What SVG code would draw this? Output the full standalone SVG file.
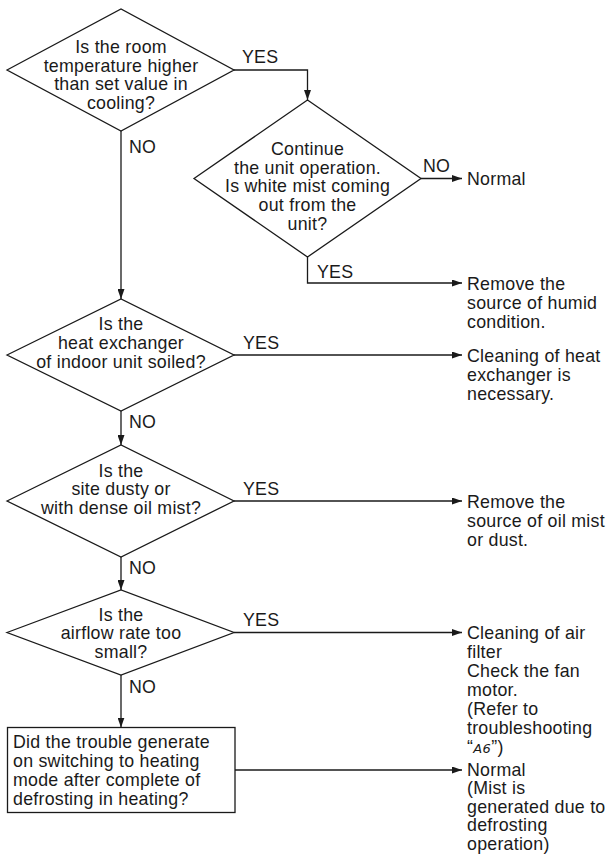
<svg xmlns="http://www.w3.org/2000/svg" width="610" height="854" viewBox="0 0 610 854">
  <style>
    .shape { fill: #ffffff; stroke: #1a1a1a; stroke-width: 1.3; }
    .wire { fill: none; stroke: #1a1a1a; stroke-width: 1.3; }
    text { font-family: "Liberation Sans", Arial, Helvetica, sans-serif; font-size: 17.8px; letter-spacing: 0.25px; fill: #1a1a1a; }
    .c { text-anchor: middle; }
    .seg { font-family: "DejaVu Sans", sans-serif; font-style: italic; font-size: 13px; letter-spacing: 0.5px; }
  </style>
  <defs>
    <marker id="arrow" markerUnits="userSpaceOnUse" markerWidth="10" markerHeight="7" refX="10" refY="3.5" orient="auto">
      <path d="M0,0 L10,3.5 L0,7 z" fill="#1a1a1a"/>
    </marker>
  </defs>

  <rect width="610" height="854" fill="#ffffff"/>

  <!-- connectors and their YES / NO labels -->
  <g id="connectors">
    <path class="wire" d="M234,70 H307.5 V100" marker-end="url(#arrow)"/>
    <path class="wire" d="M121,131 V299" marker-end="url(#arrow)"/>
    <path class="wire" d="M421,178.5 H462" marker-end="url(#arrow)"/>
    <path class="wire" d="M307.5,257 V283 H462" marker-end="url(#arrow)"/>
    <path class="wire" d="M234,355 H462" marker-end="url(#arrow)"/>
    <path class="wire" d="M121,411 V445" marker-end="url(#arrow)"/>
    <path class="wire" d="M234,501 H462" marker-end="url(#arrow)"/>
    <path class="wire" d="M121,557 V590" marker-end="url(#arrow)"/>
    <path class="wire" d="M234,632.5 H462" marker-end="url(#arrow)"/>
    <path class="wire" d="M121,675 V727.5" marker-end="url(#arrow)"/>
    <path class="wire" d="M235,770 H462" marker-end="url(#arrow)"/>

    <text x="242" y="63">YES</text>
    <text x="129" y="153">NO</text>
    <text x="423" y="171.5">NO</text>
    <text x="317" y="278">YES</text>
    <text x="243" y="348.5">YES</text>
    <text x="129" y="428">NO</text>
    <text x="243" y="494.5">YES</text>
    <text x="129" y="574">NO</text>
    <text x="243" y="626">YES</text>
    <text x="129" y="693">NO</text>
  </g>

  <!-- decision: room temperature -->
  <g id="q-room-temp">
    <polygon class="shape" points="7,70 121,9 234,70 121,131"/>
    <text class="c" x="121" y="53">Is the room</text>
    <text class="c" x="121" y="71.5">temperature higher</text>
    <text class="c" x="121" y="90">than set value in</text>
    <text class="c" x="121" y="108.5">cooling?</text>
  </g>

  <!-- decision: white mist -->
  <g id="q-white-mist">
    <polygon class="shape" points="194,178.5 307.5,100 421,178.5 307.5,257"/>
    <text class="c" x="307.5" y="155">Continue</text>
    <text class="c" x="307.5" y="173.7">the unit operation.</text>
    <text class="c" x="307.5" y="192.4">Is white mist coming</text>
    <text class="c" x="307.5" y="211.1">out from the</text>
    <text class="c" x="307.5" y="229.8">unit?</text>
  </g>

  <!-- result: normal -->
  <g id="r-normal-1">
    <text x="467" y="185">Normal</text>
  </g>

  <!-- result: humid source -->
  <g id="r-humid">
    <text x="467" y="290">Remove the</text>
    <text x="467" y="309">source of humid</text>
    <text x="467" y="328">condition.</text>
  </g>

  <!-- decision: heat exchanger -->
  <g id="q-heat-exchanger">
    <polygon class="shape" points="7,355 121,299 234,355 121,411"/>
    <text class="c" x="121" y="329.5">Is the</text>
    <text class="c" x="121" y="348.5">heat exchanger</text>
    <text class="c" x="121" y="367.5">of indoor unit soiled?</text>
  </g>

  <!-- result: clean exchanger -->
  <g id="r-clean-exchanger">
    <text x="467" y="362">Cleaning of heat</text>
    <text x="467" y="381">exchanger is</text>
    <text x="467" y="400">necessary.</text>
  </g>

  <!-- decision: dusty site -->
  <g id="q-dusty-site">
    <polygon class="shape" points="7,501 121,445 234,501 121,557"/>
    <text class="c" x="121" y="476.5">Is the</text>
    <text class="c" x="121" y="495">site dusty or</text>
    <text class="c" x="121" y="513.5">with dense oil mist?</text>
  </g>

  <!-- result: oil mist source -->
  <g id="r-oil-mist">
    <text x="467" y="507.5">Remove the</text>
    <text x="467" y="526.5">source of oil mist</text>
    <text x="467" y="545.5">or dust.</text>
  </g>

  <!-- decision: airflow -->
  <g id="q-airflow">
    <polygon class="shape" points="7,632.5 121,590 234,632.5 121,675"/>
    <text class="c" x="121" y="620.5">Is the</text>
    <text class="c" x="121" y="639">airflow rate too</text>
    <text class="c" x="121" y="658">small?</text>
  </g>

  <!-- result: air filter / fan motor -->
  <g id="r-air-filter">
    <text x="467" y="639">Cleaning of air</text>
    <text x="467" y="658">filter</text>
    <text x="467" y="677">Check the fan</text>
    <text x="467" y="696">motor.</text>
    <text x="467" y="715">(Refer to</text>
    <text x="467" y="734">troubleshooting</text>
    <text x="467" y="753">“<tspan class="seg">A6</tspan>”)</text>
  </g>

  <!-- decision: defrosting -->
  <g id="q-defrost">
    <rect class="shape" x="7.5" y="727.5" width="227.5" height="85"/>
    <text x="13" y="748">Did the trouble generate</text>
    <text x="13" y="767">on switching to heating</text>
    <text x="13" y="786">mode after complete of</text>
    <text x="13" y="805">defrosting in heating?</text>
  </g>

  <!-- result: normal (defrost mist) -->
  <g id="r-normal-2">
    <text x="467" y="775.5">Normal</text>
    <text x="467" y="794">(Mist is</text>
    <text x="467" y="812.5">generated due to</text>
    <text x="467" y="831">defrosting</text>
    <text x="467" y="849.5">operation)</text>
  </g>
</svg>
